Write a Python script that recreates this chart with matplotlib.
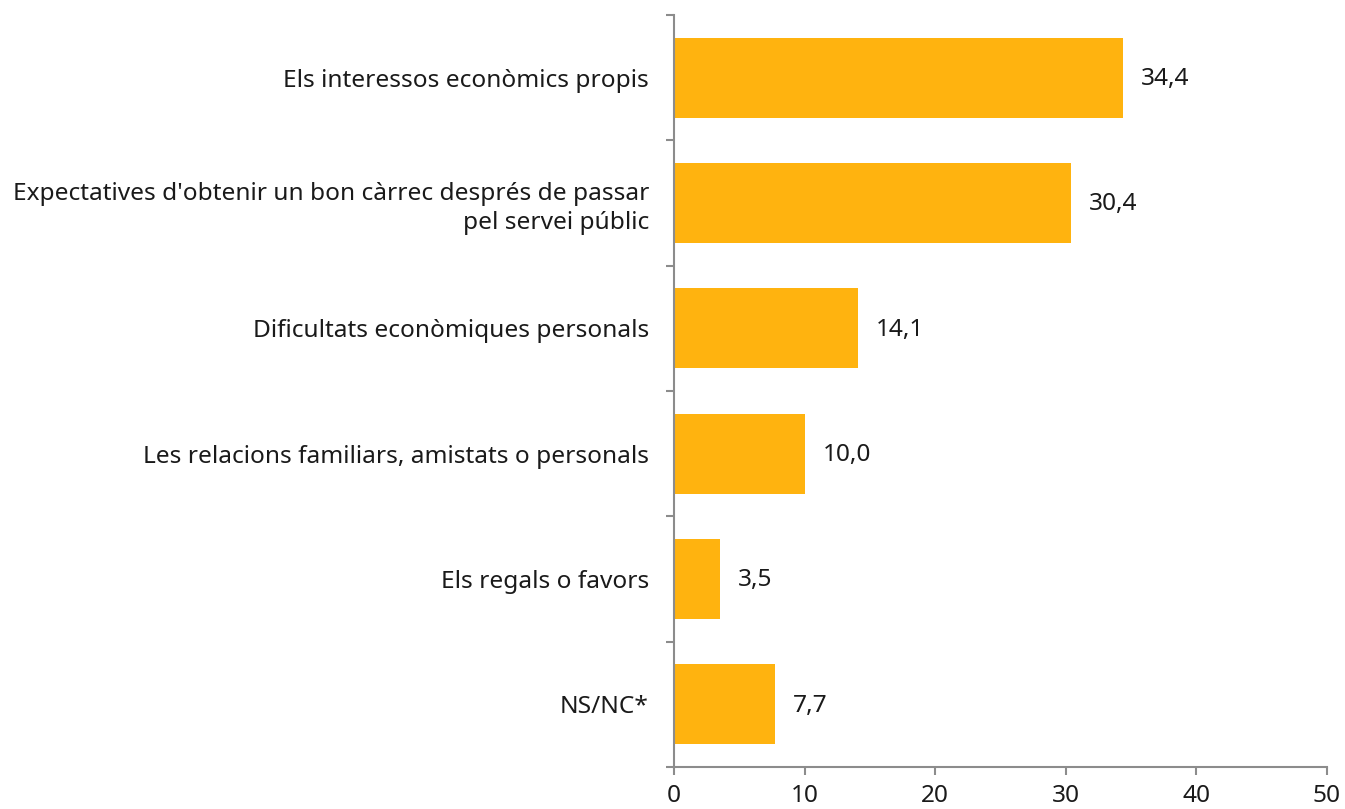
import matplotlib
matplotlib.use("Agg")
import matplotlib.pyplot as plt
import numpy as np

# categories and values (percentages)
categorias = [
    "Els interessos econòmics propis",
    "Expectatives d'obtenir un bon càrrec després de passar\npel servei públic",
    "Dificultats econòmiques personals",
    "Les relacions familiars, amistats o personals",
    "Els regals o favors",
    "NS/NC*",
]
valores = [34.4, 30.4, 14.1, 10.0, 3.5, 7.7]
ticks_x = [0, 10, 20, 30, 40, 50]

plt.rcParams["font.family"] = ["Noto Sans", "DejaVu Sans"]
gris = "#8c8c8c"
fs = 17.6

fig = plt.figure(figsize=(13.45, 8.09), dpi=100)
ax = fig.add_axes([674 / 1345, 42 / 809, 653 / 1345, 752 / 809])

pos = np.arange(len(categorias))
ax.barh(pos, valores, height=0.64, color="#FFB30F", zorder=2)

# etiquetas de valor
for y, v in zip(pos, valores):
    ax.annotate(f"{v:.1f}".replace(".", ","), (v, y), xytext=(13, -1),
                textcoords="offset points", va="center", ha="left",
                fontsize=fs, color="#1a1a1a")

ax.set_xlim(0, 50)
ax.set_ylim(len(categorias) - 0.5, -0.5)
ax.set_xticks(ticks_x)
ax.set_xticklabels([str(t) for t in ticks_x], fontsize=fs, color="#1a1a1a")

# etiquetas de categoría sin marca; marcas en los límites
ax.set_yticks(pos)
ax.set_yticklabels(categorias, fontsize=fs, color="#1a1a1a", ha="right",
                   linespacing=1.25)
ax.tick_params(axis="y", which="major", length=0, pad=18)
ax.set_yticks(np.arange(-0.5, len(categorias)), minor=True)
ax.tick_params(axis="y", which="minor", length=6, width=1.5, color=gris)
ax.tick_params(axis="x", which="major", length=6, width=1.5, color=gris, pad=6)

for lado in ["top", "right"]:
    ax.spines[lado].set_visible(False)
for lado in ["left", "bottom"]:
    ax.spines[lado].set_color(gris)
    ax.spines[lado].set_linewidth(1.5)

fig.savefig("out.png", dpi=100)
plt.close(fig)
